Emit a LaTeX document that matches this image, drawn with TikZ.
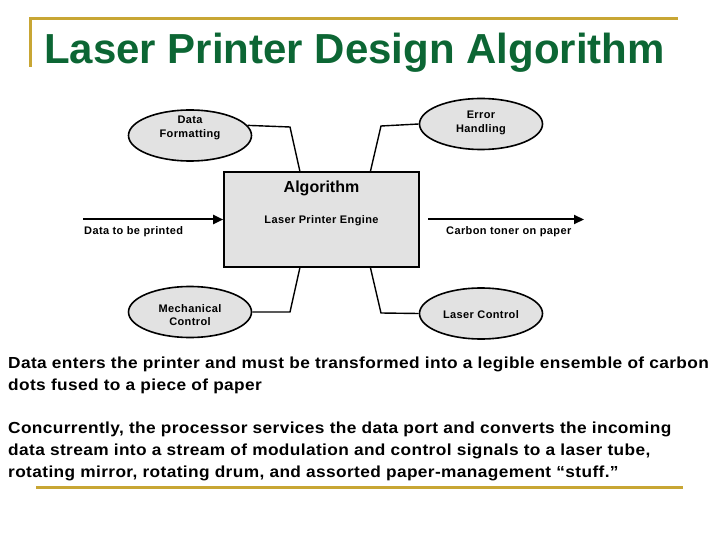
\documentclass[tikz,border=0pt]{standalone}
\usepackage{fontspec}
\setmainfont{Liberation Sans}
\newfontfamily\spacedsans[FakeStretch=1.08,LetterSpace=2.4]{Liberation Sans}
\newfontfamily\diagsans[LetterSpace=3.5]{Liberation Sans}
\usetikzlibrary{shapes.geometric,arrows.meta,calc}
\definecolor{titlegreen}{RGB}{12,102,52}
\definecolor{rulegold}{RGB}{200,166,52}
\definecolor{boxgray}{RGB}{226,226,226}
\tikzset{
  oval/.style={ellipse,draw=black,line width=1.6pt,fill=boxgray,minimum width=123pt,minimum height=51pt,inner sep=0pt},
  ovaltext/.style={align=center,inner sep=0pt,font=\diagsans\fontsize{11}{13.5}\selectfont\bfseries},
  enginebox/.style={draw=black,line width=1.6pt,fill=boxgray,minimum width=195pt,minimum height=95pt,inner sep=0pt},
  link/.style={line width=1.4pt},
  flow/.style={line width=2pt,-{Triangle[length=10pt,width=9pt]}},
  lbl/.style={font=\diagsans\fontsize{11}{13}\selectfont\bfseries,inner sep=0pt},
  goldrule/.style={rulegold,line width=3pt},
  para/.style={font=\spacedsans\fontsize{16}{22}\selectfont\bfseries,align=left,inner sep=0pt,anchor=base west}
}
\begin{document}
\begin{tikzpicture}[x=1pt,y=-1pt]
\useasboundingbox (0,0) rectangle (720,540);
% title frame
\draw[goldrule] (30,67) -- (30,19) -- (678,19);
\node[anchor=base west,inner sep=0pt,text=titlegreen,font=\fontsize{42}{44}\selectfont\bfseries] (title) at (44,64) {Laser Printer Design Algorithm};
% engine box
\node[enginebox] (box) at (321.5,219.5) {};
\node[anchor=base,inner sep=0pt,font=\fontsize{16}{18}\selectfont\bfseries] (alg) at (321.5,193) {Algorithm};
\node[anchor=base,lbl] (eng) at (321.5,224) {Laser Printer Engine};
% ovals
\node[oval] (df) at (190,135.5) {};
\node[ovaltext] (dft) at (190,128) {Data\\Formatting};
\node[oval] (mc) at (190,312) {};
\node[ovaltext] (mct) at (190,315) {Mechanical\\Control};
\node[oval] (eh) at (481,124) {};
\node[ovaltext] (eht) at (481,123) {Error\\Handling};
\node[oval] (lc) at (481,313.5) {};
\node[ovaltext] (lct) at (481,315) {Laser Control};
% bend points
\coordinate (dfb) at (290,127);
\coordinate (mcb) at (290,312);
\coordinate (ehb) at (381,126);
\coordinate (lcb) at (381,313);
\draw[link] (df.10) -- (dfb) -- ($(box.north west)!0.39!(box.north east)$);
\draw[link] (mc.east) -- (mcb) -- ($(box.south west)!0.39!(box.south east)$);
\draw[link] (eh.west) -- (ehb) -- ($(box.north west)!0.749!(box.north east)$);
\draw[link] (lc.west) -- (lcb) -- ($(box.south west)!0.749!(box.south east)$);
% flows
\coordinate (inA) at (83,219.5);
\coordinate (outA) at (428,219.5);
\coordinate (outB) at (584,219.5);
\draw[flow] (inA) -- (box.west);
\draw[flow] (outA) -- (outB);
\node[lbl,anchor=base west] (inl) at (84,234) {Data to be printed};
\node[lbl,anchor=base west] (outl) at (446,234) {Carbon toner on paper};
% text
\node[para] (p1) at (8,390) {Data enters the printer and must be transformed into a legible ensemble of carbon\\dots fused to a piece of paper};
\node[para] (p2) at (8,477) {Concurrently, the processor services the data port and converts the incoming\\data stream into a stream of modulation and control signals to a laser tube,\\rotating mirror, rotating drum, and assorted paper-management “stuff.”};
\draw[goldrule] (36,487) -- (683,487);
\end{tikzpicture}
\end{document}
